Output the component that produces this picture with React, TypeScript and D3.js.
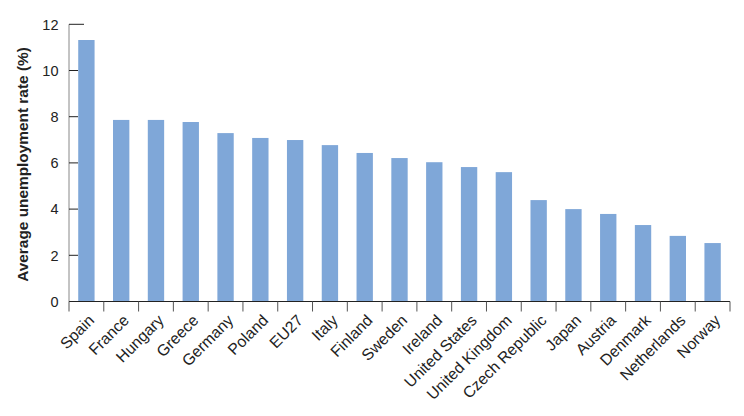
import React from "react";
import * as d3 from "d3";

const countries = ["Spain","France","Hungary","Greece","Germany","Poland","EU27","Italy","Finland","Sweden","Ireland","United States","United Kingdom","Czech Republic","Japan","Austria","Denmark","Netherlands","Norway"];
const rates = [11.32,7.86,7.86,7.77,7.29,7.08,6.99,6.77,6.43,6.21,6.03,5.82,5.6,4.39,4.0,3.79,3.31,2.84,2.53];
const yTicks = [0,2,4,6,8,10,12];

export default function App() {
  const W = 744, H = 416;
  const x0 = 69, x1 = 730, yTop = 24.3, yBot = 301.5;
  const x = d3.scaleBand<string>().domain(countries).range([x0, x1]).paddingInner(0.53).paddingOuter(0.265);
  const xb = d3.scaleBand<string>().domain(countries).range([x0, x1]);
  const y = d3.scaleLinear().domain([0, 12]).range([yBot, yTop]);
  const font = "'Liberation Sans', Arial, Helvetica, sans-serif";
  return (
    <svg width={W} height={H} style={{ position: "absolute", left: 0, top: 0 }} fontFamily={font}>
      {countries.map((c, i) => (
        <rect key={c} x={x(c)} y={y(rates[i])} width={x.bandwidth()} height={yBot - y(rates[i])} fill="#7FA7D8" />
      ))}
      <line x1={x0} x2={x0} y1={yTop} y2={yBot} stroke="#888" strokeWidth={1} />
      {yTicks.map(t => (
        <g key={t}>
          <line x1={x0} x2={x0 + (t === 12 ? 15 : 9)} y1={y(t)} y2={y(t)} stroke="#222" strokeWidth={1} />
          <text x={58.5} y={y(t)} dy="0.36em" textAnchor="end" fontSize={14.5} fill="#222">{t}</text>
        </g>
      ))}
      <line x1={x0} x2={x1} y1={yBot} y2={yBot} stroke="#222" strokeWidth={1} />
      {[...countries, null].map((c, i) => {
        const xx = x0 + i * xb.step();
        return <line key={i} x1={xx} x2={xx} y1={yBot} y2={yBot + 10} stroke="#555" strokeWidth={1} />;
      })}
      {countries.map(c => {
        const cx = (xb(c) as number) + xb.bandwidth() / 2;
        return (
          <text key={c} transform={`translate(${cx + 1},${yBot + 12}) rotate(-45)`} textAnchor="end" fontSize={15.8} fill="#222" dy="0.7em">{c}</text>
        );
      })}
      <text transform={`translate(27.5,164.5) rotate(-90)`} textAnchor="middle" fontSize={15.4} fontWeight="bold" fill="#222">Average unemployment rate (%)</text>
    </svg>
  );
}
